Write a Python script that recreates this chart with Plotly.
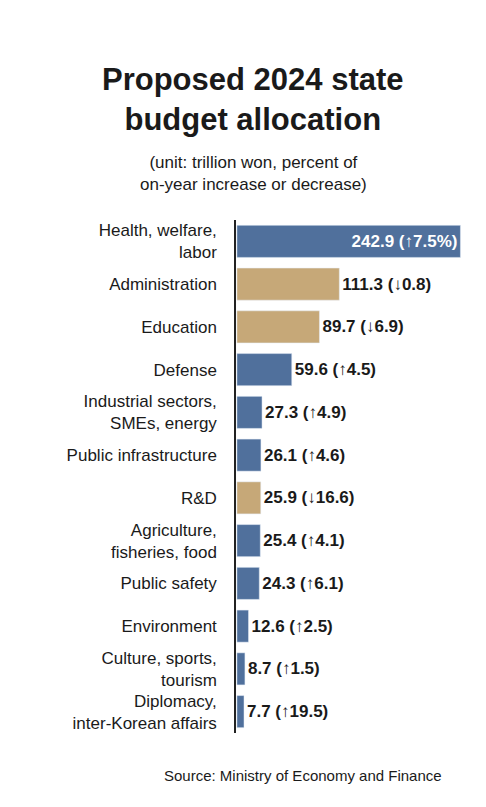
import plotly.graph_objects as go

categories = ["Health, welfare,<br>labor", "Administration", "Education", "Defense",
              "Industrial sectors,<br>SMEs, energy", "Public infrastructure", "R&D",
              "Agriculture,<br>fisheries, food", "Public safety", "Environment",
              "Culture, sports,<br>tourism", "Diplomacy,<br>inter-Korean affairs"]
values = [242.9, 111.3, 89.7, 59.6, 27.3, 26.1, 25.9, 25.4, 24.3, 12.6, 8.7, 7.7]
changes = ["↑7.5%", "↓0.8", "↓6.9", "↑4.5", "↑4.9", "↑4.6", "↓16.6", "↑4.1", "↑6.1", "↑2.5", "↑1.5", "↑19.5"]

blue = "#50709c"
tan = "#c6a878"
colors = [tan if c.startswith("↓") else blue for c in changes]
labels = [f"<b>{v} ({c})</b>" for v, c in zip(values, changes)]
positions = ["inside"] + ["outside"] * (len(values) - 1)
font_colors = ["white"] + ["#1a1a1a"] * (len(values) - 1)

L, R, T, B = 228, 16, 212, 82
pw, ph = 486 - L - R, 807 - T - B

fig = go.Figure(go.Bar(
    x=values, y=categories, orientation="h", marker_color=colors, width=0.75,
    text=labels, textposition=positions, insidetextanchor="end",
    textfont=dict(size=17, color=font_colors, family="Liberation Sans"),
    cliponaxis=False,
))

fig.update_layout(
    width=486, height=807, margin=dict(l=L, r=R, t=T, b=B, autoexpand=False),
    plot_bgcolor="white", paper_bgcolor="white", showlegend=False,
    font=dict(family="Liberation Sans", color="#1a1a1a"),
    xaxis=dict(range=[-1, 262], visible=False),
    yaxis=dict(autorange="reversed", showline=True, linecolor="#222", linewidth=1.5,
               ticks="", tickfont=dict(size=17), ticklabelstandoff=14, automargin=False),
    annotations=[
        dict(text="<b>Proposed 2024 state<br>budget allocation</b>",
             x=(245 - L) / pw, y=1 + (T - 52) / ph,
             xref="paper", yref="paper", xanchor="center", yanchor="top", showarrow=False,
             font=dict(size=31), align="center"),
        dict(text="(unit: trillion won, percent of<br>on-year increase or decrease)",
             x=(245 - L) / pw, y=1 + (T - 143) / ph, xref="paper", yref="paper",
             xanchor="center", yanchor="top", showarrow=False, font=dict(size=17), align="center"),
        dict(text="Source: Ministry of Economy and Finance", x=(436 - L) / pw, y=-(757 - (807 - B)) / ph,
             xref="paper", yref="paper", xanchor="right", yanchor="top", showarrow=False,
             font=dict(size=15)),
    ],
)

fig.write_html("out.html")
